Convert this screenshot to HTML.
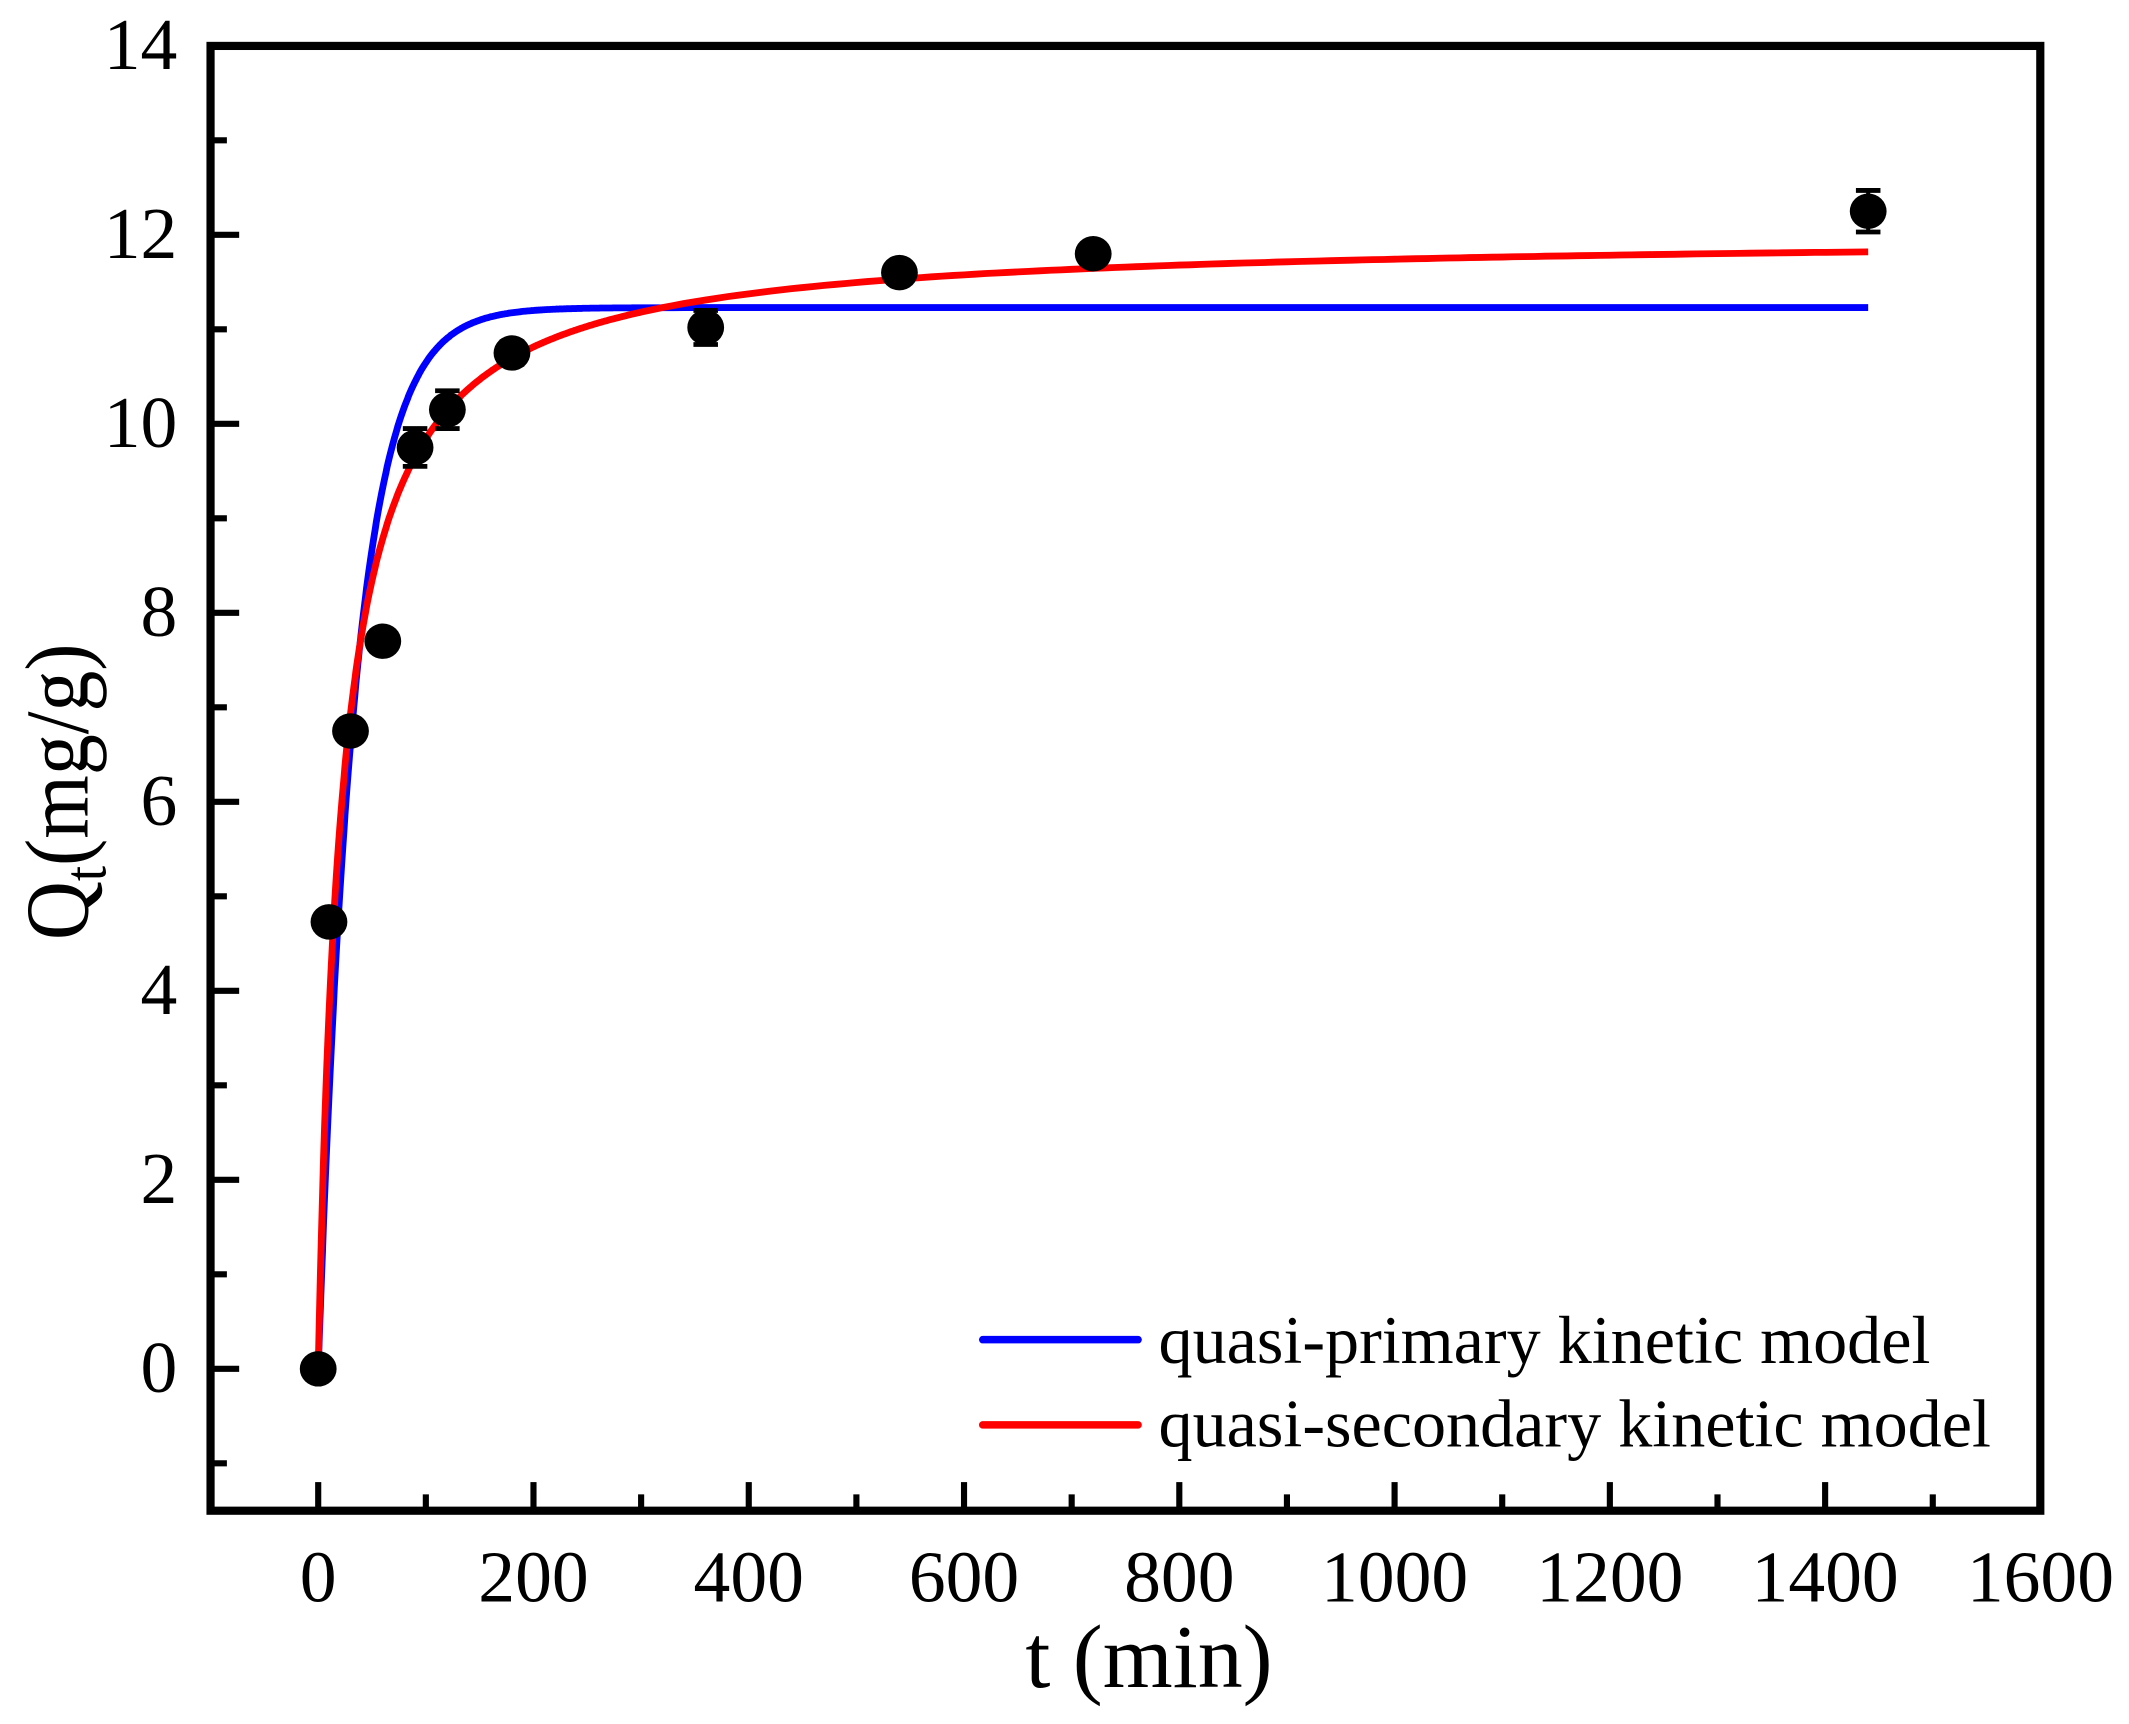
<!DOCTYPE html>
<html><head><meta charset="utf-8"><style>
html,body{margin:0;padding:0;background:#fff;}
svg{display:block}
text{font-family:"Liberation Serif",serif;fill:#000}
</style></head><body>
<svg id="s" width="2129" height="1724" viewBox="0 0 1562 1265" xmlns="http://www.w3.org/2000/svg">
<rect x="0" y="0" width="1562" height="1265" fill="#fff"/>
<g id="ticks" stroke="#000" stroke-width="4.5"></g>
<g id="curves" fill="none" stroke-width="5" stroke-linejoin="round"></g>
<g id="pts"></g>
<rect x="154.4" y="33.7" width="1342.6" height="1074.8" fill="none" stroke="#000" stroke-width="6"/>
<g id="labels" font-size="54"></g>
<text x="843" y="1238" font-size="66" text-anchor="middle">t (min)</text>
<text transform="translate(64,581) rotate(-90) scale(1,1.1)" font-size="60" text-anchor="middle">Q<tspan font-size="40" dy="12">t</tspan><tspan dy="-12">(mg/g)</tspan></text>
<line x1="721" y1="983" x2="835" y2="983" stroke="#0000ff" stroke-width="5.5" stroke-linecap="round"/>
<line x1="721" y1="1045.5" x2="835" y2="1045.5" stroke="#ff0000" stroke-width="5.5" stroke-linecap="round"/>
<text x="850" y="1000" font-size="50">quasi-primary kinetic model</text>
<text x="850" y="1061.5" font-size="50">quasi-secondary kinetic model</text>
</svg>
<script>
var NS="http://www.w3.org/2000/svg";
function X(t){return 233.4+0.7898*t;}
function Y(q){return 1004.4-69.34*q;}
function el(p,tag,a){var e=document.createElementNS(NS,tag);for(var k in a)e.setAttribute(k,a[k]);document.getElementById(p).appendChild(e);return e;}
for(var t=0;t<=1500;t+=100){var maj=t%200==0;el("ticks","line",{x1:X(t),x2:X(t),y1:1108.5,y2:1108.5-(maj?21:12)});}
for(var q=-1;q<=13;q++){var maj=q%2==0;el("ticks","line",{x1:154.4,x2:154.4+(maj?21:12),y1:Y(q),y2:Y(q)});}
for(var t=0;t<=1600;t+=200){var e=el("labels","text",{x:X(t),y:1175,"text-anchor":"middle"});e.textContent=t;}
for(var q=0;q<=14;q+=2){var e=el("labels","text",{x:130,y:Y(q)+17,"text-anchor":"end"});e.textContent=q;}
function path(f,col){var d="";for(var t=0;t<=1440;t+=(t<300?1:10)){d+=(t?"L":"M")+X(t).toFixed(1)+","+Y(f(t)).toFixed(1);}el("curves","path",{d:d,stroke:col});}
path(function(t){return 11.23*(1-Math.exp(-0.0296*t));},"#0000ff");
path(function(t){var h=0.0456*t;return 12*h/(1+h);},"#ff0000");
var P=[[0,0,0],[10,4.73,0.08],[30,6.75,0.08],[60,7.7,0.1],[90,9.75,0.2],[120,10.15,0.2],[180,10.75,0.12],[360,11.02,0.18],[540,11.6,0.1],[720,11.8,0.1],[1440,12.25,0.22]];
P.forEach(function(p){var x=X(p[0]),y=Y(p[1]),e=p[2]*69.34;
 if(e>0){el("pts","line",{x1:x,x2:x,y1:y-e,y2:y+e,stroke:"#000","stroke-width":3});
 el("pts","line",{x1:x-9,x2:x+9,y1:y-e,y2:y-e,stroke:"#000","stroke-width":3.5});
 el("pts","line",{x1:x-9,x2:x+9,y1:y+e,y2:y+e,stroke:"#000","stroke-width":3.5});}
 el("pts","ellipse",{cx:x,cy:y,rx:13.5,ry:13,fill:"#000"});});
</script>
</body></html>
